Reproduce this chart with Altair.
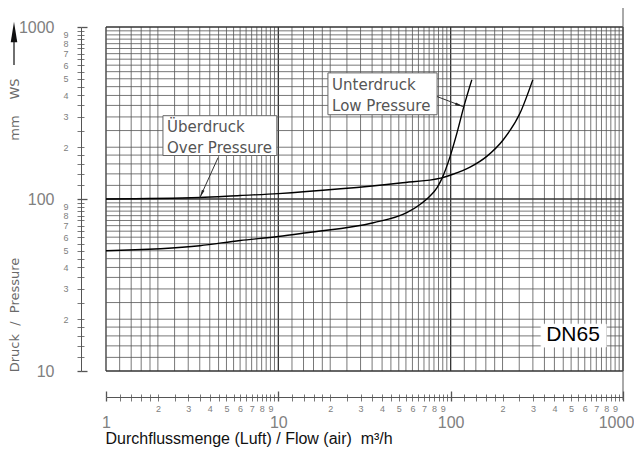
import altair as alt
import pandas as pd

# ---- curve data ----
flow_over = [1, 3.5, 6, 10, 23, 51, 88.8, 103.7, 129.6, 162, 202, 252.8, 299.6]
dp_over = [100, 102, 104.8, 107.5, 114.6, 124, 132.7, 139.6, 153.3, 177, 221, 316, 493]
flow_under = [1, 3.5, 6, 10, 14.6, 35.6, 55.6, 66.4, 75.9, 83.4, 89.2, 99.2, 108.9, 119.6, 132.6]
dp_under = [50, 53.5, 57.4, 60.5, 63.7, 72.8, 83.2, 92.9, 104.1, 116.6, 132.3, 176.4, 243, 348, 493]

# ---- grid / tick definitions ----
mantissas = [1, 1.2, 1.4, 1.6, 1.8, 2, 2.5, 3, 3.5, 4, 4.5, 5, 5.5, 6, 6.5, 7, 7.5, 8, 8.5, 9, 9.5]
x_decades = [1, 10, 100]
y_decades = [10, 100]
major_x = [1, 10, 100, 1000]
major_y = [10, 100, 1000]
minor_digits = [2, 3, 4, 5, 6, 7, 8, 9]


def clean(v):
    v = round(v, 6)
    return int(v) if v == int(v) else v


grid_x = [clean(m * d) for d in x_decades for m in mantissas] + [1000]
grid_y = [clean(m * d) for d in y_decades for m in mantissas] + [1000]
minor_x = [clean(m * d) for d in x_decades for m in minor_digits]
minor_y = [clean(m * d) for d in y_decades for m in minor_digits]

# ---- annotations (data coordinates) ----
box_x = [2.14, 19.4, 335]
box_x2 = [9.8, 83.4, 798]
box_y = [305, 541, 18.7]
box_y2 = [179, 309, 13.8]
box_stroke = ["#666666", "#666666", "white"]

label_text = ["Überdruck", "Over Pressure", "Unterdruck", "Low Pressure"]
label_x = [2.26, 2.26, 20.5, 20.5]
label_y = [263, 199, 461, 348]

leader_x = [4.47, 83.4]
leader_y = [174, 394]
leader_x2 = [3.51, 118.0]
leader_y2 = [102, 345]
leader_angle = [204, 109]

tag_text = ["DN65"]
tag_x = [513]
tag_y = [16.2]

x_title = "Durchflussmenge (Luft) / Flow (air)\u00a0\u00a0m³/h"

# ---- data frames ----
df_curves = pd.DataFrame({
    "flow": flow_over + flow_under,
    "dp": dp_over + dp_under,
    "series": ["Überdruck"] * len(flow_over) + ["Unterdruck"] * len(flow_under),
})
df_gx = pd.DataFrame({"gx": grid_x,
                      "w": [1.3 if v in major_x else 0.8 for v in grid_x],
                      "c": ["#333333" if v in major_x else "#555555" for v in grid_x]})
df_gy = pd.DataFrame({"gy": grid_y,
                      "w": [1.3 if v in major_y else 0.8 for v in grid_y],
                      "c": ["#333333" if v in major_y else "#555555" for v in grid_y]})
df_box = pd.DataFrame({"x": box_x, "x2": box_x2, "y": box_y, "y2": box_y2, "s": box_stroke})
df_lab = pd.DataFrame({"t": label_text, "x": label_x, "y": label_y})
df_lead = pd.DataFrame({"x": leader_x, "y": leader_y, "x2": leader_x2, "y2": leader_y2,
                        "a": leader_angle})
df_tag = pd.DataFrame({"t": tag_text, "x": tag_x, "y": tag_y})

xs = alt.Scale(type="log", domain=[1, 1000], nice=False)
ys = alt.Scale(type="log", domain=[10, 1000], nice=False)

maj_test_x = f"indexof({major_x}, datum.value) >= 0"
min_test_x = f"indexof({minor_x}, datum.value) >= 0"
maj_test_y = f"indexof({major_y}, datum.value) >= 0"
min_test_y = f"indexof({minor_y}, datum.value) >= 0"

x_axis_main = alt.Axis(
    orient="bottom", offset=26, values=grid_x, grid=False,
    domainColor="#555555", domainWidth=1,
    tickColor="#555555", tickSize=4,
    tickWidth={"condition": {"test": maj_test_x, "value": 1.3}, "value": 0.8},
    labelExpr=f"{maj_test_x} ? toString(datum.value) : ({min_test_x} ? slice(toString(datum.value), 0, 1) : '')",
    labelFontSize={"condition": {"test": maj_test_x, "value": 16}, "value": 9},
    labelPadding={"condition": {"test": maj_test_x, "value": 13}, "value": 3},
    labelOffset={"condition": {"test": "datum.value == 1000", "value": -7}, "value": 0},
    labelColor="#808080", labelFont="Liberation Sans",
    labelOverlap=False, labelFlush=False, labelBound=False,
    title=x_title, titleFont="Liberation Sans", titleFontSize=16,
    titleFontWeight="normal", titleColor="#111111",
    titleAnchor="start", titleAlign="left", titleBaseline="alphabetic",
    titleX=-1, titleY=46,
)
x_axis_sec = alt.Axis(
    orient="top", offset=-370, values=grid_x, grid=False, domain=False,
    labels=False, title=None, tickColor="#555555",
    tickSize={"condition": {"test": maj_test_x, "value": 6}, "value": 3},
    tickWidth={"condition": {"test": maj_test_x, "value": 1.3}, "value": 0.8},
)
y_axis_main = alt.Axis(
    orient="left", offset=25, values=grid_y, grid=False,
    domainColor="#555555", domainWidth=1,
    tickColor="#555555", tickSize=4,
    tickWidth={"condition": {"test": maj_test_y, "value": 1.3}, "value": 0.8},
    labelExpr=f"{maj_test_y} ? toString(datum.value) : ({min_test_y} ? slice(toString(datum.value), 0, 1) : '')",
    labelFontSize={"condition": {"test": maj_test_y, "value": 16}, "value": 9},
    labelPadding={"condition": {"test": maj_test_y, "value": 23}, "value": 9},
    labelColor="#808080", labelFont="Liberation Sans",
    labelOverlap=False, labelFlush=False, labelBound=False,
    title=None,
)
y_axis_sec = alt.Axis(
    orient="right", offset=-542, values=grid_y, grid=False, domain=False,
    labels=False, title=None, tickColor="#555555",
    tickSize={"condition": {"test": maj_test_y, "value": 6}, "value": 3},
    tickWidth={"condition": {"test": maj_test_y, "value": 1.3}, "value": 0.8},
)

vgrid = alt.Chart(df_gx).mark_rule().encode(
    x=alt.X("gx:Q", scale=xs, axis=x_axis_main),
    strokeWidth=alt.StrokeWidth("w:Q", scale=None),
    color=alt.Color("c:N", scale=None),
)
hgrid = alt.Chart(df_gy).mark_rule().encode(
    y=alt.Y("gy:Q", scale=ys, axis=y_axis_main),
    strokeWidth=alt.StrokeWidth("w:Q", scale=None),
    color=alt.Color("c:N", scale=None),
)
edge = alt.Chart(pd.DataFrame({"e": [1000]})).mark_rule(color="#555555", strokeWidth=1).encode(
    x=alt.X("e:Q", scale=xs, axis=None), y=alt.value(-20), y2=alt.value(373)
)
curves = alt.Chart(df_curves).mark_line(color="black", strokeWidth=1.4, interpolate="monotone").encode(
    x=alt.X("flow:Q", scale=xs, axis=x_axis_sec),
    y=alt.Y("dp:Q", scale=ys, axis=y_axis_sec),
    detail="series:N",
)
boxes = alt.Chart(df_box).mark_rect(fill="white", strokeWidth=1).encode(
    x=alt.X("x:Q", scale=xs, axis=None), x2="x2:Q",
    y=alt.Y("y:Q", scale=ys, axis=None), y2="y2:Q",
    stroke=alt.Stroke("s:N", scale=None),
)
labels = alt.Chart(df_lab).mark_text(
    align="left", baseline="middle", font="DejaVu Sans", fontSize=15, color="#555555"
).encode(
    x=alt.X("x:Q", scale=xs, axis=None), y=alt.Y("y:Q", scale=ys, axis=None), text="t:N"
)
leaders = alt.Chart(df_lead).mark_rule(color="#333333", strokeWidth=1).encode(
    x=alt.X("x:Q", scale=xs, axis=None), y=alt.Y("y:Q", scale=ys, axis=None),
    x2="x2:Q", y2="y2:Q",
)
heads = alt.Chart(df_lead).mark_point(
    shape="M0,0L0.35,2L-0.35,2Z", filled=True, color="#222222", size=64, opacity=1
).encode(
    x=alt.X("x2:Q", scale=xs, axis=None), y=alt.Y("y2:Q", scale=ys, axis=None),
    angle=alt.Angle("a:Q", scale=None),
)
tag = alt.Chart(df_tag).mark_text(
    align="center", baseline="middle", font="Liberation Sans", fontSize=21, color="black"
).encode(
    x=alt.X("x:Q", scale=xs, axis=None), y=alt.Y("y:Q", scale=ys, axis=None), text="t:N"
)

ytitle_df = pd.DataFrame({"t": ["Druck\u00a0\u00a0/\u00a0\u00a0Pressure", "mm", "WS"],
                          "py": [288, 101, 62]})
ytitles = alt.Chart(ytitle_df).mark_text(
    angle=270, align="center", baseline="middle", font="DejaVu Sans", fontSize=13, color="#6a6a6a"
).encode(x=alt.value(-91), y=alt.Y("py:Q", scale=None, axis=None), text="t:N")

arrow_df = pd.DataFrame({"a": [0]})
arrow_shaft = alt.Chart(arrow_df).mark_rule(color="#222222", strokeWidth=1.3).encode(
    x=alt.value(-92), y=alt.value(14), y2=alt.value(38)
)
arrow_head = alt.Chart(arrow_df).mark_point(
    shape="M0,-1L0.32,1L-0.32,1Z", filled=True, color="#111111", size=420, opacity=1
).encode(x=alt.value(-92), y=alt.value(5))

chart = alt.layer(
    vgrid, hgrid, edge, curves, boxes, labels, leaders, heads,
    tag, ytitles, arrow_shaft, arrow_head,
).resolve_axis(x="independent", y="independent").properties(
    width=517, height=344,
    padding={"left": 98, "top": 19, "right": 11, "bottom": 76},
    autosize=alt.AutoSizeParams(type="none"),
    background="white",
).configure_view(stroke=None)

chart.save("out.html", embed_options={"renderer": "svg", "actions": False})
